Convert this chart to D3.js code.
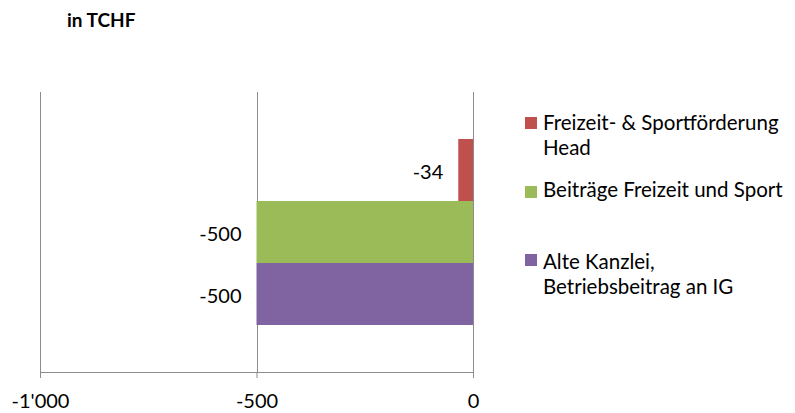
<!DOCTYPE html>
<html>
<head>
<meta charset="utf-8">
<script src="https://cdn.jsdelivr.net/npm/d3@7"></script>
<style>
  html, body { margin: 0; padding: 0; background: #fff; }
  svg { display: block; font-family: Lato, "Open Sans", sans-serif; }
</style>
</head>
<body>
<svg id="chart" width="795" height="413"></svg>
<script>
// Series of the single category, drawn top to bottom
const seriesNames = [
  ["Freizeit- & Sportförderung", "Head"],
  ["Beiträge Freizeit und Sport"],
  ["Alte Kanzlei,", "Betriebsbeitrag an IG"]
];
const seriesValues = [-34, -500, -500];
const seriesColors = ["#C0504D", "#9BBB59", "#8064A2"];
const tickValues = [-1000, -500, 0];
const tickLabels = ["-1'000", "-500", "0"];

const svg = d3.select("#chart");
const fontFamily = "Lato, 'Open Sans', sans-serif";

const plot = { left: 40, right: 473, top: 92, bottom: 372 };

const x = d3.scaleLinear().domain([-1000, 0]).range([plot.left, plot.right]);
const y = d3.scaleBand()
  .domain(d3.range(seriesValues.length))
  .range([139, 325]);

// Plain hyphen as minus sign
const fmt = d => String(d);

// Title
svg.append("text")
  .attr("x", 67).attr("y", 27)
  .attr("font-weight", "bold").attr("font-size", 19)
  .attr("fill", "#000")
  .text("in TCHF");

// Vertical gridlines
svg.append("g")
  .selectAll("line")
  .data(tickValues)
  .join("line")
  .attr("x1", d => Math.round(x(d)) + 0.5)
  .attr("x2", d => Math.round(x(d)) + 0.5)
  .attr("y1", plot.top).attr("y2", plot.bottom)
  .attr("stroke", "#8c8c8c").attr("stroke-width", 1);

// Bars
svg.append("g")
  .selectAll("rect")
  .data(seriesValues)
  .join("rect")
  .attr("x", d => x(d))
  .attr("width", d => x(0) - x(d))
  .attr("y", (d, i) => y(i))
  .attr("height", y.bandwidth())
  .attr("fill", (d, i) => seriesColors[i]);

// Value labels
svg.append("g")
  .selectAll("text")
  .data(seriesValues)
  .join("text")
  .attr("x", d => x(d) - 15)
  .attr("y", (d, i) => y(i) + y.bandwidth() / 2 + 8.5)
  .attr("text-anchor", "end")
  .attr("font-size", 20)
  .attr("fill", "#000")
  .text(fmt);

// X axis
const axis = d3.axisBottom(x)
  .tickValues(tickValues)
  .tickFormat((d, i) => tickLabels[i])
  .tickSize(6)
  .tickPadding(16);

const gx = svg.append("g")
  .attr("transform", `translate(0,${plot.bottom})`)
  .call(axis);
gx.select(".domain").attr("stroke", "#8c8c8c").attr("d", `M${plot.left},0.5H${plot.right}`);
gx.selectAll(".tick line").attr("stroke", "#8c8c8c");
gx.selectAll(".tick text")
  .attr("font-size", 20)
  .attr("font-family", fontFamily)
  .attr("fill", "#000");

// Legend
const legendSquares = [117, 186, 254];
const legendBaselines = [130, 197, 269];
const legend = svg.append("g");
seriesNames.forEach((lines, i) => {
  legend.append("rect")
    .attr("x", 525).attr("y", legendSquares[i])
    .attr("width", 12).attr("height", 12)
    .attr("fill", seriesColors[i]);
  lines.forEach((t, j) => {
    legend.append("text")
      .attr("x", 543)
      .attr("y", legendBaselines[i] + j * 25)
      .attr("font-size", 20.5)
      .attr("fill", "#000")
      .text(t);
  });
});
</script>
</body>
</html>
